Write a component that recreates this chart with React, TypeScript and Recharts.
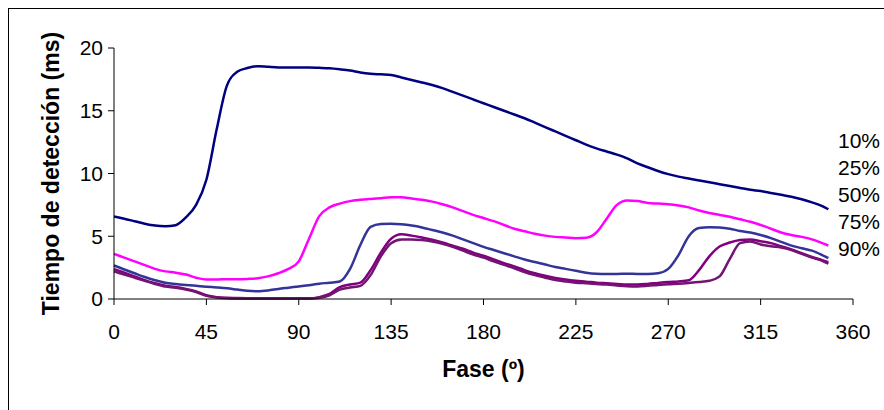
import React from 'react';
import { LineChart, Line, XAxis, YAxis, Legend, Label } from 'recharts';

const phase = [
  0, 5, 10, 15, 20, 25, 30, 35, 40, 45,
  50, 55, 60, 65, 70, 75, 80, 85, 90, 95,
  100, 105, 110, 115, 120, 125, 130, 135, 140, 145,
  150, 155, 160, 165, 170, 175, 180, 185, 190, 195,
  200, 205, 210, 215, 220, 225, 230, 235, 240, 245,
  250, 255, 260, 265, 270, 275, 280, 285, 290, 295,
  300, 305, 310, 315, 320, 325, 330, 335, 340, 345,
  348,
];

const p10 = [
  6.57, 6.4, 6.2, 6.0, 5.85, 5.8, 5.88, 6.5, 7.5, 9.5,
  13.5, 17.0, 18.1, 18.4, 18.55, 18.5, 18.45, 18.45, 18.45, 18.45,
  18.42, 18.38, 18.3, 18.2, 18.05, 17.95, 17.9, 17.85, 17.65, 17.45,
  17.25, 17.05, 16.8, 16.5, 16.2, 15.9, 15.6, 15.3, 15.0, 14.7,
  14.4, 14.05, 13.7, 13.35, 13.0, 12.65, 12.3, 12.0, 11.75, 11.5,
  11.2, 10.8, 10.5, 10.2, 9.95, 9.75, 9.6, 9.45, 9.3, 9.15,
  9.0, 8.85, 8.7, 8.6, 8.45, 8.3, 8.15, 7.95, 7.7, 7.4,
  7.15,
];

const p25 = [
  3.6, 3.3, 3.0, 2.7, 2.4, 2.2, 2.1, 1.95, 1.7, 1.55,
  1.55, 1.58, 1.58, 1.6, 1.65, 1.8, 2.05, 2.4, 3.0, 4.8,
  6.6, 7.3, 7.6, 7.8, 7.9, 7.97, 8.03, 8.1, 8.1, 8.0,
  7.9, 7.76, 7.55, 7.3, 7.0, 6.7, 6.45, 6.2, 5.9, 5.6,
  5.4, 5.2, 5.05, 4.95, 4.9, 4.85, 4.88, 5.3, 6.4, 7.5,
  7.85, 7.8, 7.65, 7.6, 7.55, 7.45, 7.3, 7.05, 6.85, 6.7,
  6.55, 6.35, 6.15, 5.9, 5.6, 5.3, 5.1, 4.95, 4.75, 4.45,
  4.26,
];

const p50 = [
  2.67, 2.35, 2.05, 1.75, 1.5, 1.3, 1.2, 1.12, 1.05, 0.98,
  0.92, 0.85, 0.75, 0.65, 0.62, 0.68, 0.8, 0.9, 1.0, 1.1,
  1.22, 1.3, 1.4, 2.4, 4.3, 5.75, 5.98, 6.0, 5.95, 5.85,
  5.7, 5.5, 5.3, 5.05, 4.75, 4.45, 4.15, 3.9, 3.65, 3.4,
  3.15, 2.95, 2.75, 2.55, 2.4, 2.25, 2.1, 2.02, 2.0, 2.0,
  2.02, 2.0, 2.0, 2.05, 2.4, 3.5, 5.0, 5.65, 5.72, 5.7,
  5.6, 5.42, 5.3, 5.1, 4.85, 4.55, 4.25, 4.05, 3.85, 3.5,
  3.26,
];

const p75 = [
  2.38, 2.1, 1.8, 1.5, 1.25, 1.05, 0.95, 0.8, 0.6, 0.3,
  0.15, 0.1, 0.08, 0.06, 0.05, 0.05, 0.05, 0.05, 0.05, 0.05,
  0.15, 0.4, 0.95, 1.15, 1.3, 2.3, 3.7, 4.8, 5.15, 5.05,
  4.9, 4.72, 4.5, 4.25, 4.0, 3.7, 3.45, 3.15, 2.85, 2.6,
  2.3, 2.05, 1.85, 1.68, 1.55, 1.45, 1.38, 1.3, 1.25, 1.2,
  1.15, 1.15, 1.2, 1.28, 1.35, 1.4, 1.5, 2.3, 3.4, 4.18,
  4.5, 4.7, 4.75, 4.6, 4.45, 4.2, 3.95, 3.65, 3.35, 3.1,
  2.94,
];

const p90 = [
  2.2, 1.95, 1.7, 1.45, 1.2, 1.0, 0.9, 0.75, 0.55, 0.25,
  0.12, 0.05, 0.04, 0.03, 0.03, 0.03, 0.03, 0.03, 0.03, 0.04,
  0.1, 0.3, 0.75, 0.92, 1.05, 1.9, 3.4, 4.45, 4.75, 4.75,
  4.7, 4.58, 4.4, 4.15, 3.85, 3.55, 3.3, 3.0, 2.72, 2.45,
  2.15, 1.9, 1.7, 1.52, 1.4, 1.3, 1.25, 1.2, 1.15, 1.08,
  1.02, 1.0, 1.05, 1.12, 1.18, 1.22, 1.28, 1.35, 1.45, 1.8,
  3.2, 4.45, 4.58, 4.35, 4.2, 4.1, 3.9, 3.6, 3.3, 3.05,
  2.81,
];

const seriesNames = ['10%', '25%', '50%', '75%', '90%'];
const seriesValues = [p10, p25, p50, p75, p90];
const seriesColors = ['#000080', '#FF00FF', '#333399', '#800080', '#731373'];

const xTicks = [0, 45, 90, 135, 180, 225, 270, 315, 360];
const yTicks = [0, 5, 10, 15, 20];

const xTitle = 'Fase (º)';
const yTitle = 'Tiempo de detección (ms)';

const data = phase.map((ph, i) => {
  const row: Record<string, number> = { phase: ph };
  seriesNames.forEach((n, s) => {
    row[n] = seriesValues[s][i];
  });
  return row;
});

const FONT = '"Liberation Sans", Arial, sans-serif';

const YTitle = (props: any) => {
  const vb = props.viewBox || { x: 0, y: 0, width: 0, height: 0 };
  const cx = vb.x + 51;
  const cy = vb.y + vb.height / 2;
  return (
    <text
      x={cx}
      y={cy}
      transform={`rotate(-90, ${cx}, ${cy})`}
      textAnchor="middle"
      dominantBaseline="central"
      fontFamily={FONT}
      fontWeight="bold"
      fontSize={23}
      fill="#000"
    >
      {yTitle}
    </text>
  );
};

const XTitle = (props: any) => {
  const vb = props.viewBox || { x: 0, y: 0, width: 0, height: 0 };
  return (
    <text
      x={vb.x + vb.width / 2}
      y={vb.y + 78}
      textAnchor="middle"
      fontFamily={FONT}
      fontWeight="bold"
      fontSize={23}
      fill="#000"
    >
      {xTitle}
    </text>
  );
};

const LegendContent = () => (
  <div style={{ fontFamily: FONT, fontSize: 21, lineHeight: '27px', color: '#000' }}>
    {seriesNames.map((n) => (
      <div key={n}>{n}</div>
    ))}
  </div>
);

export default function App() {
  return (
    <div
      style={{
        position: 'absolute',
        left: 0,
        top: 0,
        width: 884,
        height: 410,
        overflow: 'hidden',
        background: '#fff',
      }}
    >
      <div
        style={{
          position: 'absolute',
          left: 8,
          top: 8,
          width: 900,
          height: 420,
          borderLeft: '1px solid #000',
          borderTop: '1px solid #000',
        }}
      />
      <div style={{ position: 'absolute', left: 0, top: 0 }}>
        <LineChart
          width={884}
          height={410}
          data={data}
          margin={{ top: 48, right: 31, left: 0, bottom: 0 }}
          style={{ fontFamily: FONT }}
        >
          <XAxis
            dataKey="phase"
            type="number"
            domain={[0, 360]}
            ticks={xTicks}
            interval={0}
            height={111}
            tickSize={6}
            tickMargin={19}
            axisLine={{ stroke: '#000', strokeWidth: 1 }}
            tickLine={{ stroke: '#000', strokeWidth: 1 }}
            tick={{ fill: '#000', fontSize: 21, fontFamily: FONT }}
          >
            <Label content={<XTitle />} />
          </XAxis>
          <YAxis
            type="number"
            domain={[0, 20]}
            ticks={yTicks}
            interval={0}
            width={114}
            tickSize={6}
            tickMargin={5}
            axisLine={{ stroke: '#000', strokeWidth: 1 }}
            tickLine={{ stroke: '#000', strokeWidth: 1 }}
            tick={{ fill: '#000', fontSize: 21, fontFamily: FONT }}
          >
            <Label content={<YTitle />} />
          </YAxis>
          <Legend
            layout="horizontal"
            verticalAlign="middle"
            align="center"
            content={<LegendContent />}
            wrapperStyle={{ left: 838, top: 127, width: 46 }}
          />
          {seriesNames.map((n, s) => (
            <Line
              key={n}
              type="monotone"
              dataKey={n}
              stroke={seriesColors[s]}
              strokeWidth={2.5}
              dot={false}
              activeDot={false}
              isAnimationActive={false}
            />
          ))}
        </LineChart>
      </div>
    </div>
  );
}
